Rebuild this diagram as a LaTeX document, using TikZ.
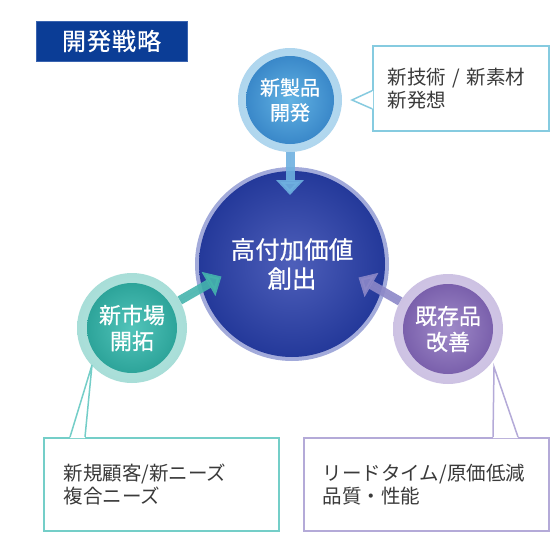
\documentclass[tikz,border=0pt]{standalone}
\usepackage{fontspec}
\newfontfamily\jp{Noto Sans CJK JP}
\newfontfamily\jpm{Noto Sans CJK JP}[FakeBold=0.6]
\usetikzlibrary{arrows.meta}
\definecolor{titleBlue}{HTML}{0B3D96}
\definecolor{titleEdge}{HTML}{3A64B0}
\definecolor{topRing}{HTML}{AFD6EE}
\definecolor{topIn}{HTML}{62B2E3}
\definecolor{topOut}{HTML}{3A88C9}
\definecolor{leftRing}{HTML}{A8DED8}
\definecolor{leftIn}{HTML}{52C4BA}
\definecolor{leftOut}{HTML}{2DA49A}
\definecolor{rightRing}{HTML}{CDC2E3}
\definecolor{rightIn}{HTML}{A08BC9}
\definecolor{rightOut}{HTML}{7A60AC}
\definecolor{midRing}{HTML}{A2AADA}
\definecolor{midIn}{HTML}{4E5FBA}
\definecolor{midOut}{HTML}{24399A}
\definecolor{arrD}{HTML}{6EB1E0}
\definecolor{arrL}{HTML}{45B4AD}
\definecolor{arrR}{HTML}{8C88C8}
\definecolor{boxT}{HTML}{86CBE0}
\definecolor{boxL}{HTML}{74CEC8}
\definecolor{boxR}{HTML}{B4AAD8}
\definecolor{txt}{HTML}{3A3A3A}
\begin{document}
\begin{tikzpicture}[x=1pt,y=-1pt,
  ring/.style={circle,inner sep=0pt,minimum size=#1},
  core/.style={circle,inner sep=0pt,minimum size=90pt,align=center,text=white,
    font=\jpm\fontsize{22}{26}\selectfont},
  flow/.style={line width=9pt,-{Triangle[width=27pt,length=15pt]}},
  callout/.style={draw=#1,line width=1.5pt,fill=white,rectangle,anchor=north west,
    align=left,text=txt,font=\jp\fontsize{19.5}{23}\selectfont},
  pointer/.style={draw=#1,line width=1.5pt,line join=miter}
]
\useasboundingbox (0,0) rectangle (560,538);
\fill[white] (0,0) rectangle (560,538);

% title
\node[fill=titleBlue,draw=titleEdge,line width=0.8pt,minimum width=151pt,minimum height=40pt,
  inner sep=0pt,text=white,font=\jpm\fontsize{24}{26}\selectfont] (title) at (111.5,41) {開\kern1pt 発\kern1pt 戦\kern1pt 略};

% center circle
\node[ring=194pt,fill=midRing] (mid) at (292,264) {};
\node[circle,inner sep=0pt,minimum size=186pt,inner color=midIn,outer color=midOut,
  align=center,text=white,font=\jpm\fontsize{24.5}{29}\selectfont] (midIn) at (mid) {高付加価値\\創出};

% top circle
\node[ring=104pt,inner color=topRing!80!white,outer color=topRing] (top) at (290,100) {};
\node[core,minimum size=88pt,inner color=topIn,outer color=topOut,font=\jpm\fontsize{20}{25}\selectfont] (topIn) at (top) {新製品\\開発};

% left circle
\node[ring=110pt,inner color=leftRing!80!white,outer color=leftRing] (left) at (132,328) {};
\node[core,inner color=leftIn,outer color=leftOut] (leftIn) at (left) {新市場\\開拓};

% right circle
\node[ring=110pt,inner color=rightRing!80!white,outer color=rightRing] (right) at (448,329) {};
\node[core,inner color=rightIn,outer color=rightOut] (rightIn) at (right) {既存品\\改善};

% arrows
\coordinate (dtip) at (290,195);
\coordinate (ltip) at (221.5,276.5);
\coordinate (rtip) at (358.5,277.5);
\draw[flow,draw=arrD,fill=arrD,opacity=0.9] (top.south) -- (dtip);
\draw[flow,draw=arrL,fill=arrL,opacity=0.9] (left.30) -- (ltip);
\draw[flow,draw=arrR,fill=arrR,opacity=0.9] (right.150) -- (rtip);

% callout top right
\node[callout=boxT,minimum height=85pt,text width=146pt,inner xsep=15pt,inner ysep=0pt] (tbox) at (372,45) {新技術 / 新素材\\新発想};
\coordinate (ttip) at (352,100);
\fill[white] ([yshift=-2.5pt,xshift=1.2pt]tbox.west) -- (ttip) -- ([yshift=-20.5pt,xshift=1.2pt]tbox.west) -- cycle;
\draw[pointer=boxT] ([yshift=-2.5pt]tbox.west) -- (ttip) -- ([yshift=-20.5pt]tbox.west);

% callout bottom left
\node[callout=boxL,minimum height=93pt,text width=195pt,inner xsep=20pt,inner ysep=0pt] (lbox) at (43,437) {新規顧客/新ニーズ\\複合ニーズ};
\coordinate (lptip) at (92,365);
\fill[white] ([xshift=27pt,yshift=-1.2pt]lbox.north west) -- (lptip) -- ([xshift=42pt,yshift=-1.2pt]lbox.north west) -- cycle;
\draw[pointer=boxL] ([xshift=27pt]lbox.north west) -- (lptip) -- ([xshift=42pt]lbox.north west);

% callout bottom right
\node[callout=boxR,minimum height=93pt,text width=207pt,inner xsep=19pt,inner ysep=0pt] (rbox) at (303,437) {リードタイム/原価低減\\品質・性能};
\coordinate (rptip) at (494,367);
\fill[white] ([xshift=190pt,yshift=-1.2pt]rbox.north west) -- (rptip) -- ([xshift=215pt,yshift=-1.2pt]rbox.north west) -- cycle;
\draw[pointer=boxR] ([xshift=190pt]rbox.north west) -- (rptip) -- ([xshift=215pt]rbox.north west);
\end{tikzpicture}
\end{document}
